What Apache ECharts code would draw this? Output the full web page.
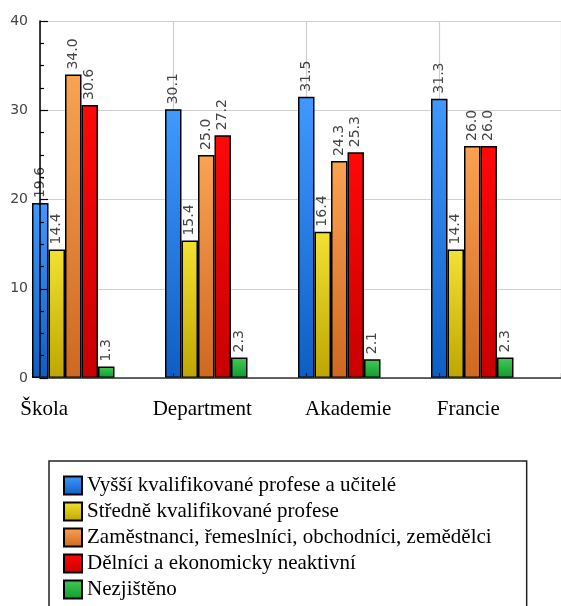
<!DOCTYPE html>
<html><head><meta charset="utf-8">
<script src="https://cdn.jsdelivr.net/npm/echarts@6/dist/echarts.min.js"></script>
<style>html,body{margin:0;padding:0;background:#fff}#c{width:561px;height:606px}</style>
</head><body><div id="c"></div>
<script>
const categories = ['Škola', 'Department', 'Akademie', 'Francie'];
const seriesNames = ['Vyšší kvalifikované profese a učitelé', 'Středně kvalifikované profese', 'Zaměstnanci, řemeslníci, obchodníci, zemědělci', 'Dělníci a ekonomicky neaktivní', 'Nezjištěno'];
const vyssi = [19.6, 30.1, 31.5, 31.3];
const stredne = [14.4, 15.4, 16.4, 14.4];
const zamestnanci = [34.0, 25.0, 24.3, 26.0];
const delnici = [30.6, 27.2, 25.3, 26.0];
const nezjisteno = [1.3, 2.3, 2.1, 2.3];
const yTicks = [0, 10, 20, 30, 40];

const colors = [['#3f99ff', '#0e5ec4'], ['#f2e232', '#bea600'], ['#faa352', '#cf6820'], ['#ff0808', '#c80000'], ['#44c955', '#0f9a30']];
const dataSets = [vyssi, stredne, zamestnanci, delnici, nezjisteno];
const labelPads = [[0, 58, 0, 0], [0, 8, 0, 0], [0, 0, 0, 18], [0, 8, 0, 0]];

const chart = echarts.init(document.getElementById('c'));
const gridTop = 21, gridH = 357;
const band = 133;
const series = dataSets.map((d, i) => ({
  name: seriesNames[i], type: 'bar', xAxisIndex: 0, yAxisIndex: 0,
  data: d, barWidth: 16.5, barGap: '0%',
  itemStyle: {
    color: new echarts.graphic.LinearGradient(0, 0, 0, 1, [{offset: 0, color: colors[i][0]}, {offset: 1, color: colors[i][1]}]),
    borderColor: '#000', borderWidth: 1.5
  },
  label: {
    show: true, position: 'top', rotate: 90, align: 'left', verticalAlign: 'middle', distance: 5,
    color: '#444', fontFamily: 'DejaVu Sans', fontSize: 14,
    formatter: p => p.value.toFixed(1)
  },
  z: 2
}));

const rich = {};
labelPads.forEach((p, i) => { rich['c' + i] = {fontFamily: 'Liberation Serif', fontSize: 21, color: '#000', padding: p}; });

chart.setOption({
  animation: false,
  grid: [
    {left: 40 - band / 4, width: band * 4, top: gridTop, height: gridH},
    {left: 40, right: 0, top: gridTop, height: gridH},
    {left: 40, right: 0, top: gridTop, height: gridH}
  ],
  xAxis: [
    {type: 'category', gridIndex: 0, data: categories, boundaryGap: true,
     axisLine: {show: false}, axisTick: {show: false}, splitLine: {show: false},
     axisLabel: {interval: 0, hideOverlap: false, margin: 21, color: '#000', fontFamily: 'Liberation Serif', fontSize: 21,
       formatter: (v, i) => '{c' + i + '|' + v + '}', rich: rich}},
    {type: 'value', gridIndex: 1, min: 0, max: 521 / band, interval: 1, position: 'bottom',
     axisLine: {show: false}, axisTick: {show: false}, axisLabel: {show: false},
     splitLine: {show: true, lineStyle: {color: '#d0d0d0', width: 1.2}}, z: 0},
    {type: 'value', gridIndex: 2, min: 0, max: 521 / band, interval: 1, position: 'bottom',
     axisLine: {show: true, lineStyle: {color: '#333', width: 1.5}},
     axisTick: {show: true, inside: true, length: 5, lineStyle: {color: '#222', width: 1.2}},
     axisLabel: {show: false}, splitLine: {show: false}, z: 5}
  ],
  yAxis: [
    {type: 'value', gridIndex: 0, min: 0, max: 40, show: false},
    {type: 'value', gridIndex: 1, min: 0, max: 40, interval: 10,
     axisLine: {show: false}, axisTick: {show: false}, axisLabel: {show: false},
     splitLine: {show: true, lineStyle: {color: '#d0d0d0', width: 1.2}}, z: 0},
    {type: 'value', gridIndex: 2, min: 0, max: 40, interval: 10,
     axisLine: {show: true, lineStyle: {color: '#000', width: 1.5}},
     axisTick: {show: true, inside: true, length: 8, lineStyle: {color: '#000', width: 1.2}},
     minorTick: {show: true, splitNumber: 4, length: 4, lineStyle: {color: '#000', width: 1.2}},
     axisLabel: {margin: 12, color: '#444', fontFamily: 'DejaVu Sans', fontSize: 14,
       formatter: v => yTicks.includes(v) ? String(v) : ''},
     splitLine: {show: false}, z: 5}
  ],
  legend: {
    orient: 'vertical', left: 49, top: 461, height: 220,
    padding: [14, 35, 40, 14],
    itemWidth: 18, itemHeight: 18, itemGap: 5, icon: 'rect',
    borderColor: '#222', borderWidth: 1.5,
    textStyle: {fontFamily: 'Liberation Serif', fontSize: 21, color: '#000', lineHeight: 21},
    data: seriesNames
  },
  series: series
});
</script></body></html>
